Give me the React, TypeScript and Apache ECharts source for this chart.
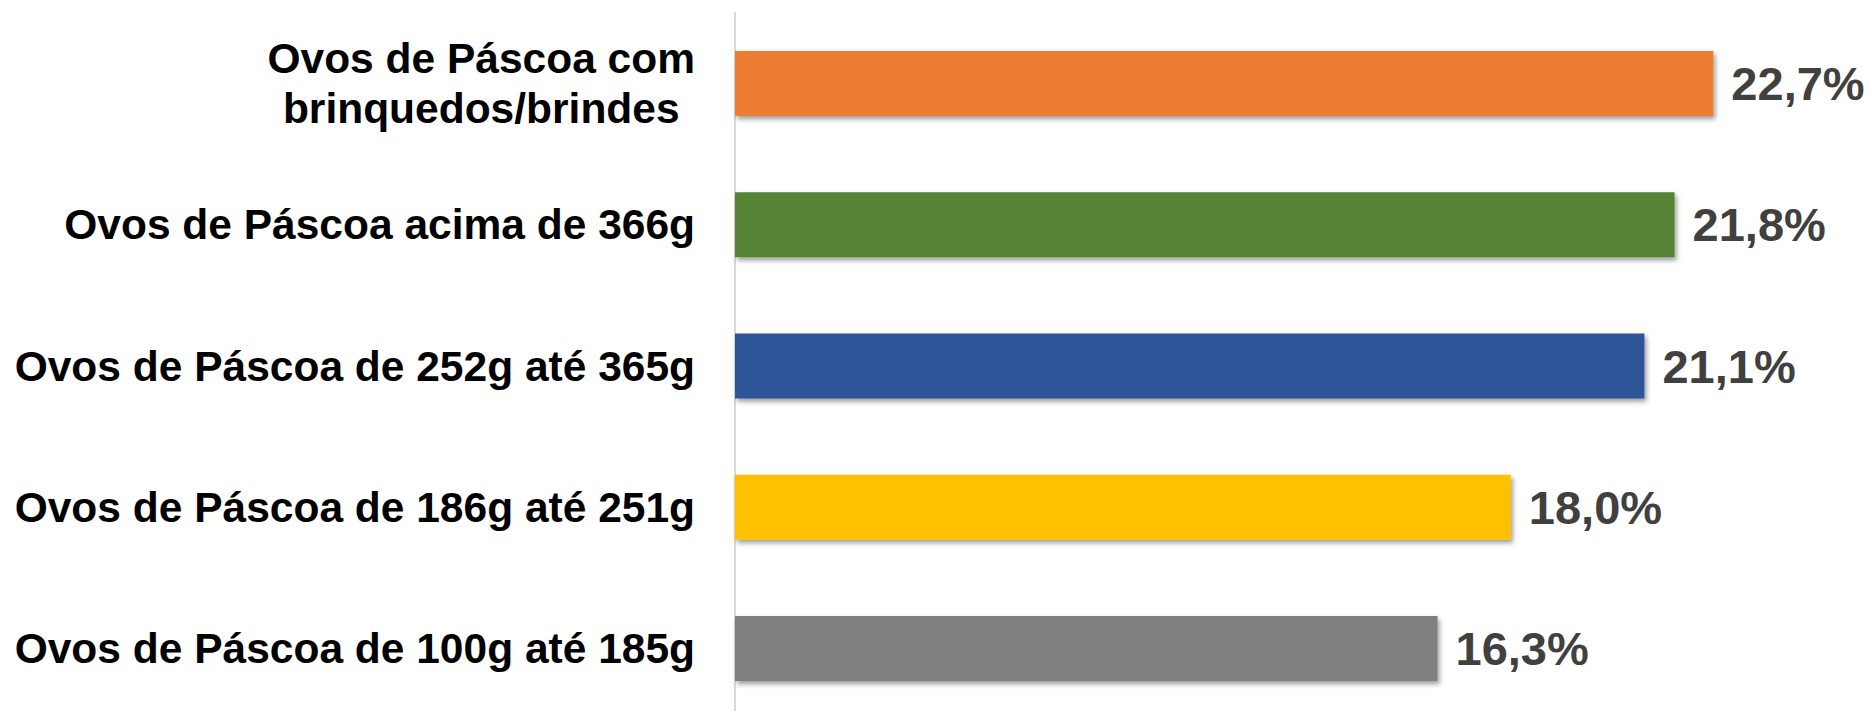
import React, { useEffect, useRef } from "react";
import * as echarts from "echarts";

const categories = [
  "Ovos de Páscoa com\nbrinquedos/brindes",
  "Ovos de Páscoa acima de 366g",
  "Ovos de Páscoa de 252g até 365g",
  "Ovos de Páscoa de 186g até 251g",
  "Ovos de Páscoa de 100g até 185g",
];
const values = [22.7, 21.8, 21.1, 18.0, 16.3];
const colors = ["#ED7D31", "#548235", "#2F5597", "#FFC000", "#7F7F7F"];

const FONT = "'Liberation Sans', Arial, sans-serif";

export default function App() {
  const ref = useRef<HTMLDivElement>(null);
  useEffect(() => {
    if (!ref.current) return;
    const chart = echarts.init(ref.current, undefined, { renderer: "svg" });
    chart.setOption({
      animation: false,
      backgroundColor: "#ffffff",
      grid: { left: 735, width: 1077.5, top: 13, height: 706, containLabel: false },
      xAxis: {
        type: "value",
        min: 0,
        max: 25,
        show: false,
      },
      yAxis: {
        type: "category",
        inverse: true,
        data: categories,
        axisLine: { show: true, lineStyle: { color: "#d9d9d9", width: 2 } },
        axisTick: { show: false },
        splitLine: { show: false },
        axisLabel: {
          margin: 40,
          fontFamily: FONT,
          fontWeight: "bold",
          fontSize: 42.5,
          color: "#000000",
          lineHeight: 50,
          formatter: (v: string) => `{c|${v}}`,
          rich: {
            c: {
              align: "center",
              fontFamily: FONT,
              fontWeight: "bold",
              fontSize: 42.5,
              color: "#000000",
              lineHeight: 50,
            },
          },
        },
      },
      series: [
        {
          type: "bar",
          barCategoryGap: "54%",
          data: values.map((v, i) => ({
            value: v,
            itemStyle: {
              color: colors[i],
              shadowColor: "rgba(0,0,0,0.4)",
              shadowBlur: 5,
              shadowOffsetX: 2,
              shadowOffsetY: 3,
            },
          })),
          label: {
            show: true,
            position: "right",
            distance: 18,
            fontFamily: FONT,
            fontWeight: "bold",
            fontSize: 47,
            color: "#404040",
            formatter: (p: any) => p.value.toFixed(1).replace(".", ",") + "%",
          },
        },
      ],
    });
    return () => chart.dispose();
  }, []);
  return (
    <div
      ref={ref}
      style={{ position: "fixed", left: 0, top: 0, width: 1870, height: 720 }}
    />
  );
}
